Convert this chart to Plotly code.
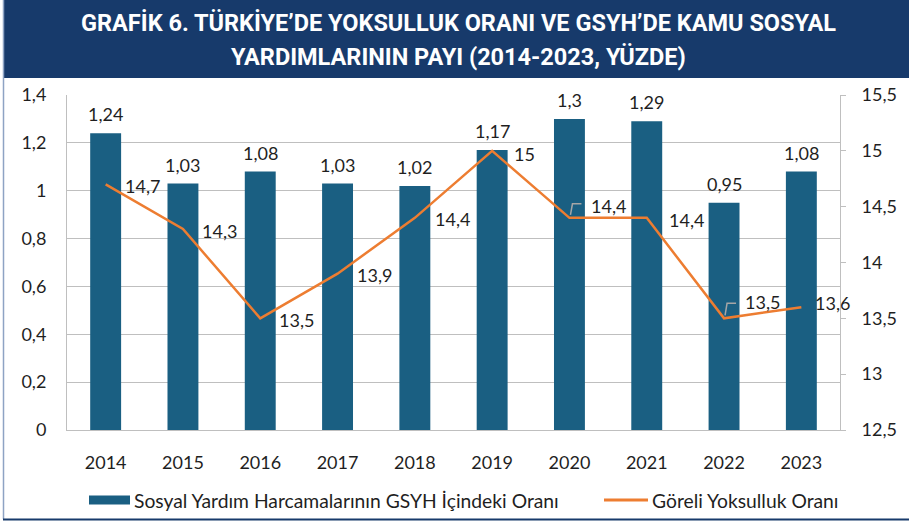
import plotly.graph_objects as go

years = ["2014", "2015", "2016", "2017", "2018", "2019", "2020", "2021", "2022", "2023"]
sosyal_yardim = [1.24, 1.03, 1.08, 1.03, 1.02, 1.17, 1.30, 1.29, 0.95, 1.08]
goreli_yoksulluk = [14.7, 14.3, 13.5, 13.9, 14.4, 15.0, 14.4, 14.4, 13.5, 13.6]

bar_name = "Sosyal Yardım Harcamalarının GSYH İçindeki Oranı"
line_name = "Göreli Yoksulluk Oranı"
title_line1 = "GRAFİK 6. TÜRKİYE’DE YOKSULLUK ORANI VE GSYH’DE KAMU SOSYAL"
title_line2 = "YARDIMLARININ PAYI (2014-2023, YÜZDE)"

BAR_COLOR = "#1a5f82"
LINE_COLOR = "#ed7d31"
TITLE_BG = "#173a6b"
GRID = "#bfbfbf"
TXT = "#1f1f1f"
FONT = "Lato"

# pixel geometry of the plot area
L, R, T, B = 67, 840, 95, 430
W, H = R - L, B - T

def px(xp):
    return (xp - L) / W

def py(yp):
    return (B - yp) / H

def fmt(v):
    return f"{v:g}".replace(".", ",")

fig = go.Figure()
fig.add_trace(go.Bar(x=years, y=sosyal_yardim, name=bar_name, marker_color=BAR_COLOR,
                     marker_line_width=0, width=0.40, yaxis="y", showlegend=False))
fig.add_trace(go.Scatter(x=years, y=goreli_yoksulluk, name=line_name, mode="lines",
                         line=dict(color=LINE_COLOR, width=2.5), yaxis="y2",
                         showlegend=False))

annotations = []
for i, v in enumerate(sosyal_yardim):
    annotations.append(dict(x=i, y=v, xref="x", yref="y", text=fmt(v), showarrow=False,
                            yshift=19, font=dict(family=FONT, size=18, color=TXT)))

# (xshift from point to left edge of label, yshift)
line_shifts = [(17, -2), (17, -2), (17, -2), (17, -1), (18, -1), (20, -3),
               (20, 12), (20, -2), (19, 16), (12, 4)]
for i, (v, (dx, dy)) in enumerate(zip(goreli_yoksulluk, line_shifts)):
    annotations.append(dict(x=i, y=v, xref="x", yref="y2", text=fmt(v), showarrow=False,
                            xanchor="left", xshift=dx, yshift=dy,
                            font=dict(family=FONT, size=18, color=TXT)))

# title
for txt, yc in [(title_line1, 23), (title_line2, 57)]:
    annotations.append(dict(x=px(458), y=py(yc), xref="paper", yref="paper",
                            text="<b>" + txt + "</b>", showarrow=False,
                            xanchor="center", yanchor="middle",
                            font=dict(family="Roboto", size=23.5, color="white")))

# custom legend
leg_y = 500
annotations.append(dict(x=px(132), y=py(leg_y), xref="paper", yref="paper", text=bar_name,
                        showarrow=False, xanchor="left", yanchor="middle",
                        font=dict(family=FONT, size=19.3, color=TXT)))
annotations.append(dict(x=px(650), y=py(leg_y), xref="paper", yref="paper", text=line_name,
                        showarrow=False, xanchor="left", yanchor="middle",
                        font=dict(family=FONT, size=19.3, color=TXT)))

shapes = [
    dict(type="rect", xref="paper", yref="paper", x0=px(4), x1=px(909),
         y0=py(78), y1=py(0), fillcolor=TITLE_BG, line_width=0, layer="below"),
    dict(type="line", xref="paper", yref="paper", x0=px(3.5), x1=px(3.5),
         y0=py(0), y1=py(519), line=dict(color="#8ea3c4", width=1.5)),
    dict(type="line", xref="paper", yref="paper", x0=px(3), x1=px(909),
         y0=py(519.5), y1=py(519.5), line=dict(color=TITLE_BG, width=2)),
    # legend swatches
    dict(type="rect", xref="paper", yref="paper", x0=px(89), x1=px(130),
         y0=py(leg_y + 4.5), y1=py(leg_y - 4.5), fillcolor=BAR_COLOR, line_width=0),
    dict(type="line", xref="paper", yref="paper", x0=px(604), x1=px(648),
         y0=py(leg_y), y1=py(leg_y), line=dict(color=LINE_COLOR, width=3)),
    # leader lines for two line labels
    dict(type="path", xref="x", yref="y2", xsizemode="pixel", ysizemode="pixel",
         xanchor=6, yanchor=goreli_yoksulluk[6], path="M 1,3 L 3,14 L 12,14",
         line=dict(color="#a6a6a6", width=1.5)),
    dict(type="path", xref="x", yref="y2", xsizemode="pixel", ysizemode="pixel",
         xanchor=8, yanchor=goreli_yoksulluk[8], path="M 1,3 L 3,15 L 12,15",
         line=dict(color="#a6a6a6", width=1.5)),
]

fig.update_layout(
    width=909, height=521,
    margin=dict(l=L, r=909 - R, t=T, b=521 - B, autoexpand=False),
    paper_bgcolor="white", plot_bgcolor="white",
    separators=",.",
    font=dict(family=FONT, size=18, color=TXT),
    showlegend=False,
    xaxis=dict(type="category", range=[-0.5, 9.5], autorange=False, showline=True,
               linecolor=GRID, linewidth=1, ticks="", tickfont=dict(size=18, color=TXT),
               showgrid=False, ticklabelstandoff=16),
    yaxis=dict(range=[0, 1.4], dtick=0.2, showgrid=True, gridcolor=GRID, gridwidth=1,
               showline=True, linecolor=GRID, ticks="", tickfont=dict(size=18, color=TXT),
               zeroline=False, ticklabelstandoff=16),
    yaxis2=dict(range=[12.5, 15.5], dtick=0.5, overlaying="y", side="right", showgrid=False,
                showline=True, linecolor=GRID, ticks="outside", ticklen=5,
                tickcolor=GRID, tickfont=dict(size=18, color=TXT), zeroline=False,
                ticklabelstandoff=12),
    annotations=annotations,
    shapes=shapes,
)

fig.write_html("out.html", config={"displayModeBar": False},
               post_script="document.body.style.margin='0';")
